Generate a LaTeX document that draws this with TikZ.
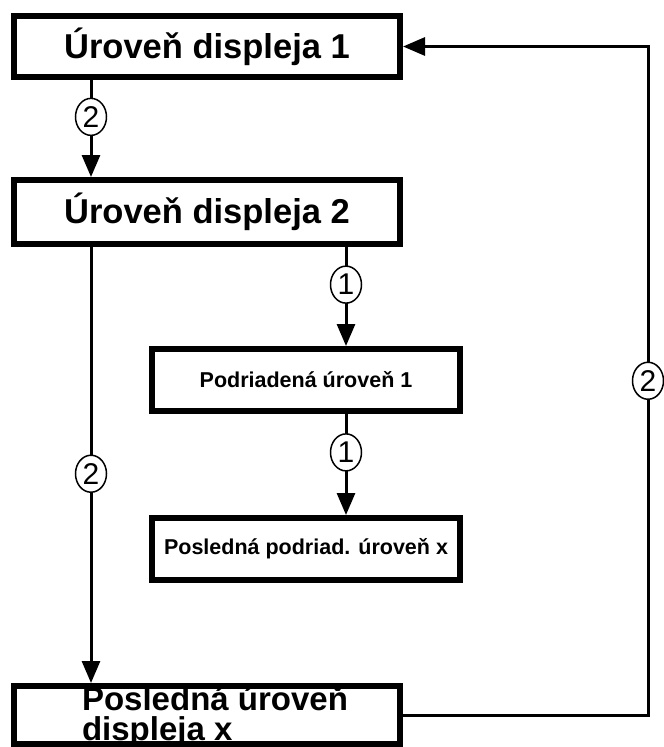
\documentclass[tikz,border=0pt]{standalone}
\usepackage{fontspec}
\setmainfont{Liberation Sans}
\usetikzlibrary{arrows.meta,shapes.geometric}
\tikzset{
  box/.style={draw, line width=6pt, fill=white, inner sep=0pt, font=\bfseries\fontsize{34.5}{36}\selectfont, align=center},
  smallbox/.style={box, font=\bfseries\fontsize{21.5}{24}\selectfont},
  conn/.style={line width=3pt},
  arr/.style={conn, -{Triangle[length=22pt, width=18pt]}},
  circ/.style={ellipse, draw, line width=1.5pt, fill=white, inner sep=0pt, minimum width=31pt, minimum height=37pt, font=\fontsize{30}{30}\selectfont}
}
\begin{document}
\begin{tikzpicture}[x=1pt, y=-1pt]
\useasboundingbox (0,0) rectangle (664,747);
\node[box, minimum width=386pt, minimum height=61pt] (B1) at (207,46.5) {Úroveň displeja 1};
\node[box, minimum width=386pt, minimum height=64pt] (B2) at (207,212) {Úroveň displeja 2};
\node[smallbox, minimum width=308pt, minimum height=62pt] (B3) at (306,380) {Podriadená úroveň 1};
\node[smallbox, minimum width=308pt, minimum height=62pt] (B4) at (306,549) {Posledná podriad. úroveň x};
\node[box, minimum width=386pt, minimum height=58pt, align=left, text height=54pt, text depth=4pt,
      font=\bfseries\fontsize{33}{30}\selectfont] (B5) at (207,715) {\hspace*{16pt}Posledná úroveň\\\hspace*{16pt}displeja x};
\coordinate (xl) at (91,0);
\coordinate (xm) at (346,0);
\coordinate (xr) at (648,0);
\draw[arr] (B1.south -| xl) -- node[circ, pos=0.38] {2} (B2.north -| xl);
\draw[arr] (B2.south -| xm) -- node[circ, pos=0.38] {1} (B3.north -| xm);
\draw[arr] (B3.south -| xm) -- node[circ, pos=0.38] {1} (B4.north -| xm);
\draw[arr] (B2.south -| xl) -- node[circ, pos=0.52] {2} (B5.north -| xl);
\draw[arr] (B5.east) -- (B5.east -| xr) -- node[circ, pos=0.5] {2} (B1.east -| xr) -- (B1.east);
\end{tikzpicture}
\end{document}
